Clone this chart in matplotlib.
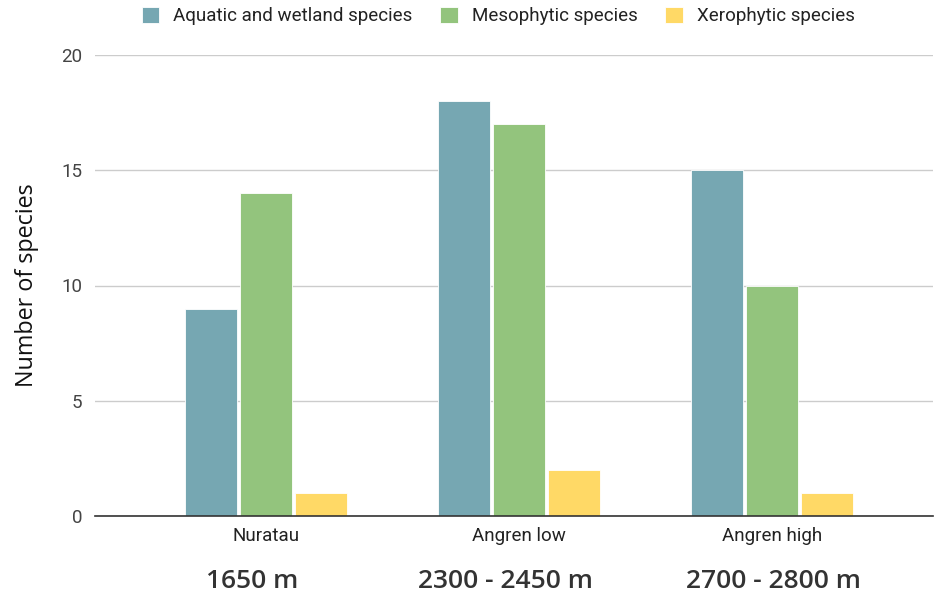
import numpy as np
import matplotlib.pyplot as plt

sites = ['Nuratau', 'Angren low', 'Angren high']
altitudes = ['1650 m', '2300 - 2450 m', '2700 - 2800 m']
series_names = ['Aquatic and wetland species', 'Mesophytic species', 'Xerophytic species']
aquatic = [9, 18, 15]
mesophytic = [14, 17, 10]
xerophytic = [1, 2, 1]

colors = ['#76a7b2', '#93c47d', '#ffd966']

fig = plt.figure(figsize=(9.34, 5.96), dpi=100)
ax = fig.add_axes([95 / 934, 80 / 596, 838 / 934, 461 / 596])

x = np.arange(len(sites))
offset = 0.217
width = 0.205
for i, (vals, name, c) in enumerate(zip([aquatic, mesophytic, xerophytic], series_names, colors)):
    ax.bar(x + (i - 1) * offset, vals, width, color=c, label=name, zorder=3,
           edgecolor='white', linewidth=0.6)

ax.set_xlim(-0.676, 2.636)
ax.set_ylim(0, 20)
ax.set_yticks([0, 5, 10, 15, 20])
ax.grid(axis='y', color='#cccccc', linewidth=1, zorder=0)
for s in ['top', 'right', 'left']:
    ax.spines[s].set_visible(False)
ax.spines['bottom'].set_color('#333333')
ax.spines['bottom'].set_linewidth(1.2)
ax.spines['bottom'].set_zorder(4)
ax.tick_params(axis='both', length=0, colors='#444444')
ax.tick_params(axis='y', pad=9)
ax.tick_params(axis='x', pad=8)
ax.set_xticks(x)
ax.set_xticklabels(sites, fontfamily='Roboto', fontsize=13.5, color='#222222')
for t in ax.get_yticklabels():
    t.set_fontfamily('Roboto')
    t.set_fontsize(13.5)

ax.set_ylabel('Number of species', fontfamily='Open Sans', fontsize=16.8, color='#111111', labelpad=16)

# altitude labels sit a little off the group centres, as in the original
alt_x = [252, 505, 773]
for xp, alt in zip(alt_x, altitudes):
    fig.text(xp / 934, 14 / 596, alt, ha='center', va='center',
             fontfamily='Open Sans', fontweight='semibold', fontsize=19, color='#333333')

leg = fig.legend(loc='center', bbox_to_anchor=(498 / 934, 1 - 16 / 596), ncol=3, frameon=False,
                 prop={'family': 'Roboto', 'size': 13.5}, handlelength=0.95, handleheight=0.95,
                 handletextpad=0.75, columnspacing=1.45)
for t in leg.get_texts():
    t.set_color('#222222')

fig.savefig('out.png', dpi=100)
